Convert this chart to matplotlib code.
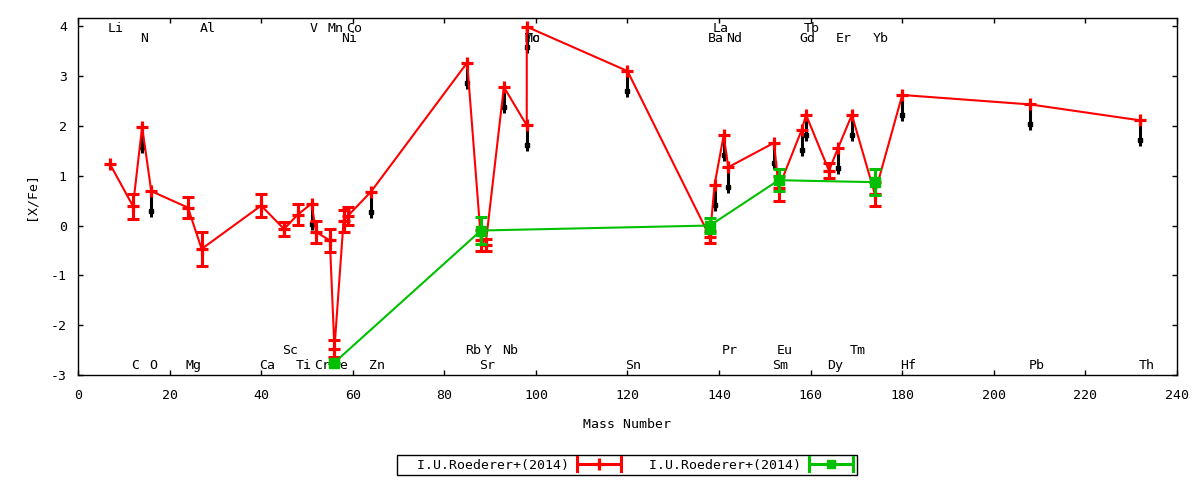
#!/usr/bin/env python3
"""[X/Fe] against mass number, I.U.Roederer+(2014)"""

import numpy as np
import matplotlib
matplotlib.use('Agg')
import matplotlib.pyplot as plt
from matplotlib.lines import Line2D

RED = '#ff0000'
GREEN = '#00c000'

# red series (ratios and upper limits)
elements = ['Li', 'C', 'N', 'O', 'Mg', 'Al', 'Ca', 'Sc', 'Ti', 'V', 'Cr', 'Mn',
            'Fe', 'Ni', 'Co', 'Zn', 'Rb', 'Sr', 'Y', 'Nb', 'Mo', 'Tc', 'Sn',
            'Ba', 'La', 'Pr', 'Nd', 'Sm', 'Eu', 'Gd', 'Tb', 'Dy', 'Er', 'Tm',
            'Yb', 'Hf', 'Pb', 'Th']
mass = [7, 12, 14, 16, 24, 27, 40, 45, 48, 51, 52, 55,
        56, 58, 59, 64, 85, 88, 89, 93, 98, 98, 120,
        138, 139, 141, 142, 152, 153, 158, 159, 164, 166, 169,
        174, 180, 208, 232]
xfe = [1.23, 0.39, 1.98, 0.69, 0.36, -0.47, 0.40, -0.07, 0.22, 0.44, -0.13, -0.30,
       -2.47, 0.10, 0.20, 0.68, 3.27, -0.30, -0.40, 2.78, 2.01, 3.99, 3.10,
       -0.23, 0.81, 1.81, 1.17, 1.66, 0.75, 1.91, 2.22, 1.10, 1.56, 2.22,
       0.64, 2.62, 2.43, 2.11]
xfe_err = [0.0, 0.25, 0.0, 0.0, 0.21, 0.35, 0.23, 0.15, 0.21, 0.0, 0.23, 0.24,
           0.17, 0.22, 0.18, 0.0, 0.0, 0.22, 0.12, 0.0, 0.0, 0.0, 0.0,
           0.12, 0.0, 0.0, 0.0, 0.0, 0.25, 0.0, 0.0, 0.15, 0.0, 0.0,
           0.24, 0.0, 0.0, 0.0]
upper = [0, 0, 1, 1, 0, 0, 0, 0, 0, 1, 0, 0,
         0, 0, 0, 1, 1, 0, 0, 1, 1, 1, 1,
         0, 1, 1, 1, 1, 0, 1, 1, 0, 1, 1,
         0, 1, 1, 1]
# 0/1 = top rows, 2/3 = bottom rows
label_row = [0, 3, 1, 3, 3, 0, 3, 2, 3, 0, 3, 0,
             3, 1, 0, 3, 2, 3, 2, 2, 1, 1, 3,
             1, 0, 2, 1, 3, 2, 1, 0, 3, 1, 2,
             1, 3, 3, 3]

# green series
green_mass = [56, 88, 138, 153, 174]
green_xfe = [-2.75, -0.10, 0.00, 0.91, 0.87]
green_err = [0.0, 0.27, 0.15, 0.22, 0.26]

legend_labels = ['I.U.Roederer+(2014)', 'I.U.Roederer+(2014)']


class ErrLineHandler:
  """gnuplot style key sample: line with caps at both ends, point in the middle"""
  def legend_artist(self, legend, orig_handle, fontsize, handlebox):
    x0, y0 = handlebox.xdescent, handlebox.ydescent
    w, h = handlebox.width, handlebox.height
    yc = y0 + h / 2
    hh = 5.0
    col = orig_handle.get_color()
    tr = handlebox.get_transform()
    main = Line2D([x0, x0 + w], [yc, yc], color=col, lw=2.2, transform=tr,
                  solid_capstyle='butt')
    handlebox.add_artist(main)
    for xc in (x0, x0 + w):
      handlebox.add_artist(Line2D([xc, xc], [yc - hh, yc + hh], color=col,
                                  lw=2.2, transform=tr))
    handlebox.add_artist(Line2D([x0 + w / 2], [yc], color=col,
                                marker=orig_handle.get_marker(),
                                ms=orig_handle.get_markersize(),
                                mew=orig_handle.get_markeredgewidth(),
                                transform=tr))
    return main


plt.rcParams['font.family'] = ['DejaVu Sans Mono']
plt.rcParams['font.size'] = 9.5
plt.rcParams['axes.unicode_minus'] = False

m = np.array(mass, dtype=float)
v = np.array(xfe)
e = np.array(xfe_err)
ul = np.array(upper, dtype=bool)
has_err = e > 0

fig = plt.figure(figsize=(12, 4.8), dpi=100)
ax = fig.add_axes([0.065, 0.21875, 0.91583, 0.74425])

# element names
row_y = [3.955, 3.745, -2.51, -2.815]
for el, mm, r in zip(elements, mass, label_row):
  ax.text(mm - 0.45, row_y[r], el, ha='left', va='center', zorder=1)

# upper limit arrows
ax.vlines(m[ul], v[ul] - 0.52, v[ul], color='black', lw=2.2, zorder=1.8)
ax.plot(m[ul], v[ul] - 0.40, ls='none', marker='s', ms=3.3, color='black',
        zorder=1.8)

# red series
ax.plot(m, v, color=RED, lw=1.5, zorder=2)
ax.errorbar(m[has_err], v[has_err], yerr=e[has_err], fmt='none', ecolor=RED,
            elinewidth=2.2, capsize=4.3, capthick=2.2, zorder=3)
ax.plot(m, v, ls='none', marker='+', ms=8.5, mew=2.3, color=RED, zorder=3)

# green series
gm = np.array(green_mass, dtype=float)
gv = np.array(green_xfe)
ge = np.array(green_err)
ax.plot(gm, gv, color=GREEN, lw=1.5, zorder=4)
ax.errorbar(gm, gv, yerr=ge, fmt='none', ecolor=GREEN, elinewidth=2.2,
            capsize=4.3, capthick=2.2, zorder=5)
ax.plot(gm, gv, ls='none', marker='s', ms=6.5, color=GREEN, zorder=5)

ax.set_xlim(0, 240)
ax.set_ylim(-3, 4.17)
ax.set_xticks(np.arange(0, 241, 20))
ax.set_yticks(np.arange(-3, 5, 1))
ax.tick_params(direction='in', top=True, right=True, length=3.6, width=1)
ax.tick_params(axis='x', pad=10)
ax.tick_params(axis='y', pad=8)
for sp in ax.spines.values():
  sp.set_linewidth(1)

fig.text(627 / 1200, 1 - 424 / 480, 'Mass Number', ha='center', va='center')
fig.text(31 / 1200, 1 - 196 / 480, '[X/Fe]', rotation=90, ha='center',
         va='center')

red_key = Line2D([], [], color=RED, marker='+', ms=8.5, mew=2.3)
green_key = Line2D([], [], color=GREEN, marker='s', ms=6.0)
handler = ErrLineHandler()
leg = fig.legend([red_key, green_key], ['  ' + s for s in legend_labels],
                 handler_map={red_key: handler, green_key: handler},
                 loc='center', bbox_to_anchor=(627 / 1200, 1 - 465 / 480),
                 ncol=2, markerfirst=False, frameon=True, fancybox=False,
                 edgecolor='black', framealpha=1, borderpad=0.25,
                 handlelength=3.4, handletextpad=0.6, columnspacing=0.85,
                 borderaxespad=0)
leg.get_frame().set_linewidth(1)

fig.savefig('out.png', dpi=100)
